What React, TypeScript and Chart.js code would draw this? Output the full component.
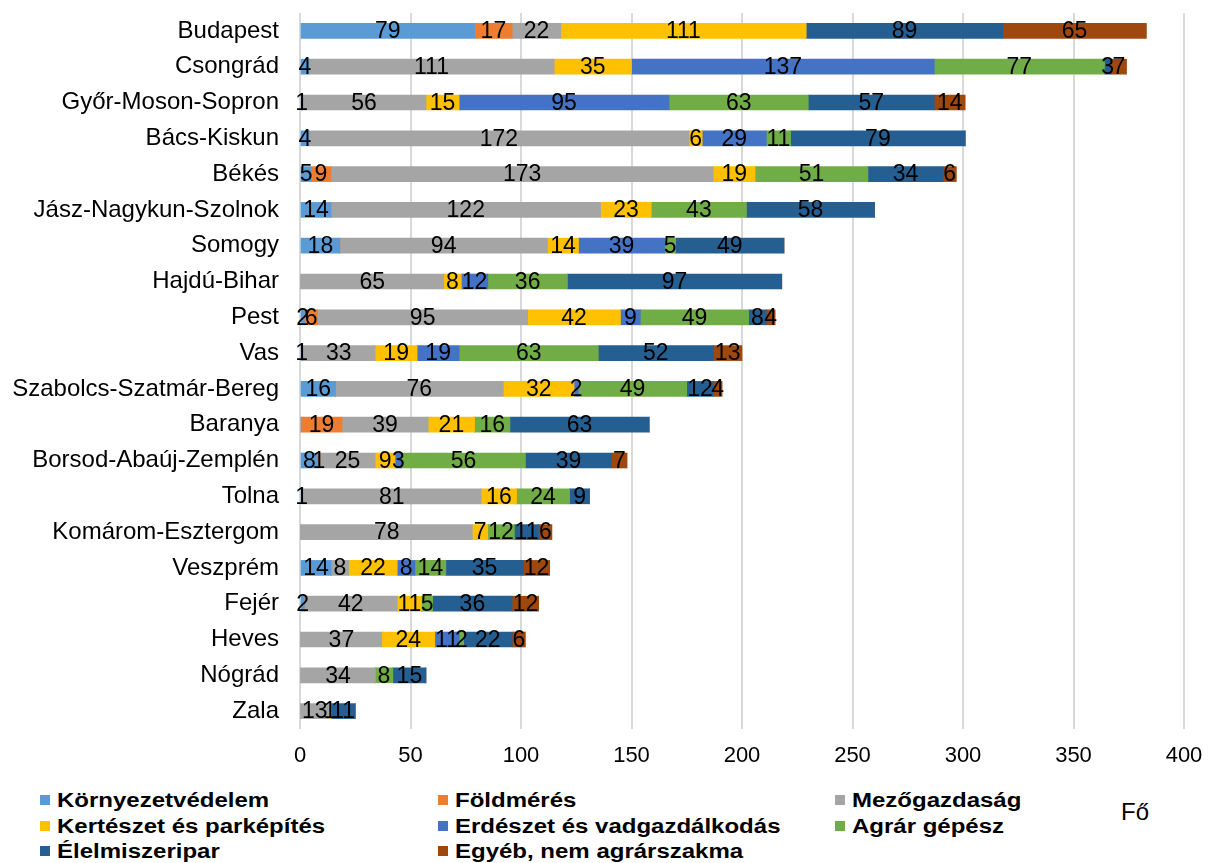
import React, { useEffect, useRef } from "react";
import { Chart, registerables } from "chart.js";

Chart.register(...registerables);

const categories = [
  "Budapest", "Csongrád", "Győr-Moson-Sopron", "Bács-Kiskun", "Békés",
  "Jász-Nagykun-Szolnok", "Somogy", "Hajdú-Bihar", "Pest", "Vas",
  "Szabolcs-Szatmár-Bereg", "Baranya", "Borsod-Abaúj-Zemplén", "Tolna",
  "Komárom-Esztergom", "Veszprém", "Fejér", "Heves", "Nógrád", "Zala",
];

const seriesNames = [
  "Környezetvédelem", "Földmérés", "Mezőgazdaság",
  "Kertészet és parképítés", "Erdészet és vadgazdálkodás", "Agrár gépész",
  "Élelmiszeripar", "Egyéb, nem agrárszakma",
];
const seriesColors = [
  "#5B9BD5", "#ED7D31", "#A5A5A5", "#FFC000", "#4472C4", "#70AD47", "#255E91", "#9E480E",
];

const kornyezetvedelem = [79, 4, 1, 4, 5, 14, 18, 0, 2, 1, 16, 0, 8, 1, 0, 14, 2, 0, 0, 0];
const foldmeres = [17, 0, 0, 0, 9, 0, 0, 0, 6, 0, 0, 19, 1, 0, 0, 0, 0, 0, 0, 0];
const mezogazdasag = [22, 111, 56, 172, 173, 122, 94, 65, 95, 33, 76, 39, 25, 81, 78, 8, 42, 37, 34, 13];
const kerteszet = [111, 35, 15, 6, 19, 23, 14, 8, 42, 19, 32, 21, 9, 16, 7, 22, 11, 24, 0, 1];
const erdeszet = [0, 137, 95, 29, 0, 0, 39, 12, 9, 19, 2, 0, 3, 0, 0, 8, 0, 11, 0, 0];
const agrarGepesz = [0, 77, 63, 11, 51, 43, 5, 36, 49, 63, 49, 16, 56, 24, 12, 14, 5, 2, 8, 0];
const elelmiszeripar = [89, 3, 57, 79, 34, 58, 49, 97, 8, 52, 12, 63, 39, 9, 11, 35, 36, 22, 15, 11];
const egyeb = [65, 7, 14, 0, 6, 0, 0, 0, 4, 13, 4, 0, 7, 0, 6, 12, 12, 6, 0, 0];

const seriesValues = [
  kornyezetvedelem, foldmeres, mezogazdasag, kerteszet,
  erdeszet, agrarGepesz, elelmiszeripar, egyeb,
];

const xTicks = [0, 50, 100, 150, 200, 250, 300, 350, 400];
const axisTitle = "Fő";

const FONT = "'Liberation Sans', Arial, sans-serif";

const segmentLabels = {
  id: "segmentLabels",
  afterDatasetsDraw(chart: any) {
    const ctx = chart.ctx;
    ctx.save();
    ctx.font = `23px ${FONT}`;
    ctx.fillStyle = "#000";
    ctx.textAlign = "center";
    ctx.textBaseline = "middle";
    chart.data.datasets.forEach((ds: any, i: number) => {
      const meta = chart.getDatasetMeta(i);
      meta.data.forEach((el: any, j: number) => {
        const v = ds.data[j];
        if (!v) return;
        const p = el.getProps(["x", "y", "base"], true);
        ctx.fillText(String(v), (p.x + p.base) / 2, p.y + 1);
      });
    });
    ctx.restore();
  },
};

const legendLayout = [
  { col: 0, row: 0 }, { col: 1, row: 0 }, { col: 2, row: 0 },
  { col: 0, row: 1 }, { col: 1, row: 1 }, { col: 2, row: 1 },
  { col: 0, row: 2 }, { col: 1, row: 2 },
];
const colLeft = [57, 455, 852];
const rowCenter = [800, 826, 851];

export default function App() {
  const ref = useRef<HTMLCanvasElement>(null);

  useEffect(() => {
    if (!ref.current) return;
    const chart = new Chart(ref.current, {
      type: "bar",
      data: {
        labels: categories,
        datasets: seriesNames.map((name, i) => ({
          label: name,
          data: seriesValues[i],
          backgroundColor: seriesColors[i],
          borderWidth: 0,
          barThickness: 15,
        })),
      },
      options: {
        indexAxis: "y",
        animation: false,
        responsive: false,
        maintainAspectRatio: false,
        layout: { padding: { left: 0, right: 24, top: 13, bottom: 0 } },
        plugins: {
          legend: { display: false },
          tooltip: { enabled: false },
        },
        scales: {
          x: {
            stacked: true,
            min: 0,
            max: 400,
            afterBuildTicks: (scale: any) => {
              scale.ticks = xTicks.map((v) => ({ value: v }));
            },
            afterFit: (scale: any) => {
              scale.height = 51;
              scale.paddingLeft = 0;
              scale.paddingRight = 0;
            },
            grid: { color: "#D9D9D9", lineWidth: 2, drawTicks: false },
            border: { display: false },
            ticks: {
              color: "#000",
              font: { family: FONT, size: 22 },
              padding: 14,
            },
          },
          y: {
            stacked: true,
            afterFit: (scale: any) => {
              scale.width = 300;
              scale.paddingTop = 0;
              scale.paddingBottom = 0;
            },
            grid: { display: false, drawTicks: false },
            border: { display: false },
            ticks: {
              color: "#000",
              font: { family: FONT, size: 24 },
              padding: 21,
            },
          },
        },
      },
      plugins: [segmentLabels],
    });
    return () => chart.destroy();
  }, []);

  return (
    <div style={{ position: "absolute", left: 0, top: 0, width: 1208, height: 863, background: "#fff", fontFamily: FONT }}>
      <canvas ref={ref} width={1208} height={780} style={{ position: "absolute", left: 0, top: 0 }} />
      {seriesNames.map((name, i) => {
        const { col, row } = legendLayout[i];
        return (
          <React.Fragment key={name}>
            <div
              style={{
                position: "absolute",
                left: colLeft[col] - 17,
                top: rowCenter[row] - 5,
                width: 10,
                height: 10,
                background: seriesColors[i],
              }}
            />
            <div
              style={{
                position: "absolute",
                left: colLeft[col],
                top: rowCenter[row] - 12,
                height: 24,
                lineHeight: "24px",
                whiteSpace: "nowrap",
                fontWeight: "bold",
                fontSize: 20,
                color: "#000",
                transform: "scaleX(1.2)",
                transformOrigin: "0 50%",
              }}
            >
              {name}
            </div>
          </React.Fragment>
        );
      })}
      <div style={{ position: "absolute", left: 1121, top: 798, fontSize: 24, lineHeight: "28px", color: "#000" }}>{axisTitle}</div>
    </div>
  );
}
